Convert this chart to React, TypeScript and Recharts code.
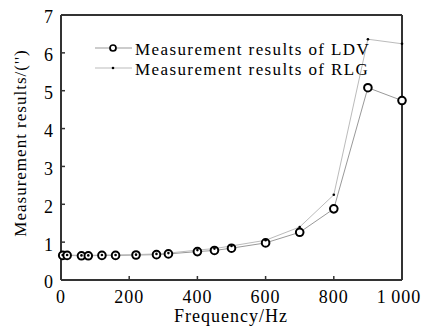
import React from 'react'
import { LineChart, Line, XAxis, YAxis, Legend, ReferenceLine, Label, Text } from 'recharts'

// values
const frequencies = [5, 18, 60, 80, 120, 160, 220, 280, 315, 400, 450, 500, 600, 700, 800, 900, 1000]
const ldvResults = [0.65, 0.65, 0.64, 0.64, 0.65, 0.65, 0.66, 0.67, 0.69, 0.75, 0.78, 0.84, 0.98, 1.26, 1.88, 5.08, 4.74]
const rlgResults = [0.66, 0.66, 0.65, 0.65, 0.66, 0.66, 0.67, 0.69, 0.71, 0.79, 0.83, 0.9, 1.05, 1.4, 2.25, 6.36, 6.24]
const xTicks = [0, 200, 400, 600, 800, 1000]
const yTicks = [0, 1, 2, 3, 4, 5, 6, 7]

const data = frequencies.map((f, i) => ({ freq: f, ldv: ldvResults[i], rlg: rlgResults[i] }))

const FONT = '"Liberation Serif", "Times New Roman", serif'
const AXIS = '#333333'

const XTick = (props: any) => {
  const { x, y, payload } = props
  const v = payload.value
  const label = v === 1000 ? '1\u2009000' : String(v)
  return (
    <Text
      x={v === 1000 ? x - 3 : x}
      y={y}
      textAnchor="middle"
      verticalAnchor="start"
      fontSize={18}
      letterSpacing={1}
      fontFamily={FONT}
      fill="#000"
    >
      {label}
    </Text>
  )
}

const YTick = (props: any) => {
  const { x, y, payload } = props
  return (
    <Text
      x={x}
      y={y + 2}
      textAnchor="end"
      verticalAnchor="middle"
      fontSize={18}
      letterSpacing={1}
      fontFamily={FONT}
      fill="#000"
    >
      {String(payload.value)}
    </Text>
  )
}

const renderLegend = () => (
  <svg width={300} height={42} style={{ display: 'block' }}>
    <line x1={0} x2={37} y1={8} y2={8} stroke="#999" strokeWidth={1} />
    <circle cx={18} cy={8} r={3} fill="#fff" stroke="#000" strokeWidth={1.7} />
    <text x={40} y={14.5} fontSize={17} letterSpacing={1.4} fontFamily={FONT} fill="#000">
      Measurement results of LDV
    </text>
    <line x1={0} x2={37} y1={28} y2={28} stroke="#bbb" strokeWidth={1} />
    <circle cx={18} cy={28} r={1.3} fill="#000" />
    <text x={40} y={35} fontSize={17} letterSpacing={1.4} fontFamily={FONT} fill="#000">
      Measurement results of RLG
    </text>
  </svg>
)

export default function App() {
  return (
    <div style={{ position: 'absolute', left: 0, top: 0, fontFamily: FONT, background: '#fff' }}>
      <LineChart width={421} height={327} data={data} margin={{ top: 15, right: 19, bottom: 0, left: 0 }}>
        <XAxis
          dataKey="freq"
          type="number"
          domain={[0, 1000]}
          ticks={xTicks}
          height={47}
          tickSize={-4}
          tickMargin={14}
          axisLine={{ stroke: AXIS, strokeWidth: 2 }}
          tickLine={{ stroke: AXIS, strokeWidth: 1.5 }}
          tick={<XTick />}
          interval={0}
        >
          <Label
            content={() => (
              <text x={231} y={322} textAnchor="middle" fontSize={18} letterSpacing={1} fontFamily={FONT} fill="#000">
                Frequency/Hz
              </text>
            )}
          />
        </XAxis>
        <YAxis
          type="number"
          domain={[0, 7]}
          ticks={yTicks}
          width={61}
          tickSize={-4}
          tickMargin={11}
          axisLine={{ stroke: AXIS, strokeWidth: 2 }}
          tickLine={{ stroke: AXIS, strokeWidth: 1.5 }}
          tick={<YTick />}
          interval={0}
        >
          <Label
            content={() => (
              <text
                x={26}
                y={143}
                transform="rotate(-90 26 143)"
                textAnchor="middle"
                fontSize={17}
                letterSpacing={1}
                fontFamily={FONT}
                fill="#000"
              >
                Measurement results/('')
              </text>
            )}
          />
        </YAxis>
        <ReferenceLine y={7} stroke={AXIS} strokeWidth={2} />
        <ReferenceLine x={1000} stroke={AXIS} strokeWidth={2} />
        <Legend
          layout="horizontal"
          verticalAlign="middle"
          align="center"
          content={renderLegend}
          wrapperStyle={{ position: 'absolute', left: 95, top: 40, width: 300, height: 42 }}
        />
        <Line
          dataKey="ldv"
          type="linear"
          stroke="#999"
          strokeWidth={1}
          dot={{ r: 3.8, fill: '#fff', stroke: '#000', strokeWidth: 2 }}
          activeDot={false}
          isAnimationActive={false}
        />
        <Line
          dataKey="rlg"
          type="linear"
          stroke="#bbb"
          strokeWidth={1}
          dot={{ r: 1.3, fill: '#000', stroke: '#000', strokeWidth: 0 }}
          activeDot={false}
          isAnimationActive={false}
        />
      </LineChart>
    </div>
  )
}
